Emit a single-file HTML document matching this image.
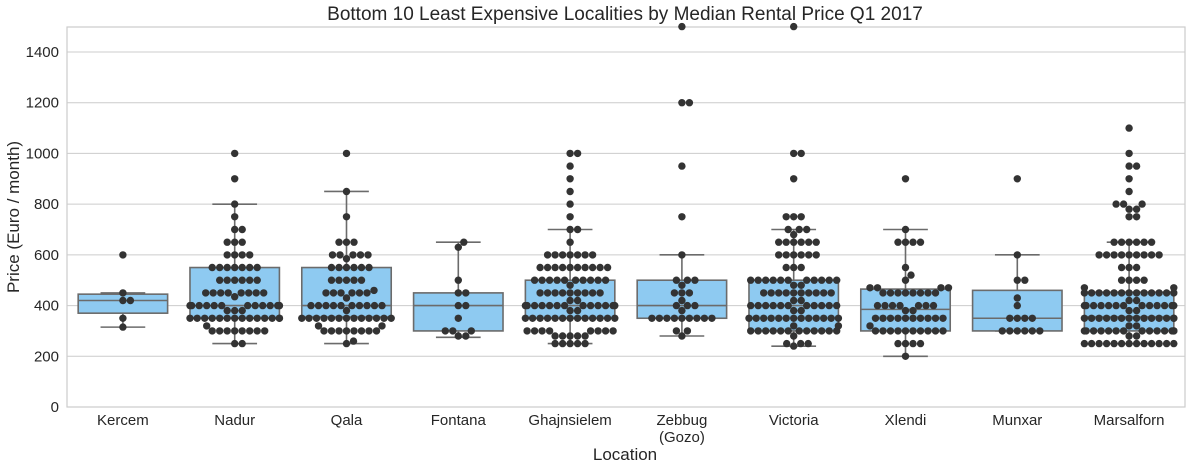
<!DOCTYPE html>
<html><head><meta charset="utf-8"><style>
html,body{margin:0;padding:0;background:#fff;}
svg text{font-family:"Liberation Sans","DejaVu Sans",sans-serif;fill:#262626;}
</style></head><body>
<svg id="s" width="1190" height="470" xmlns="http://www.w3.org/2000/svg"></svg>
<script>
const L=67,R=1185,T=27,B=407,k=(B-52)/1400;
const Y=p=>B-p*k;
let h='';
h+=`<rect x="0" y="0" width="1190" height="470" fill="#fff"/>`;
for(let p=0;p<=1400;p+=200){h+=`<line x1="${L}" x2="${R}" y1="${Y(p)}" y2="${Y(p)}" stroke="#cccccc" stroke-width="1"/>`;
h+=`<text x="59" y="${Y(p)+5}" font-size="15" text-anchor="end">${p}</text>`;}
h+=`<rect x="${L}" y="${T}" width="${R-L}" height="${B-T}" fill="none" stroke="#cccccc" stroke-width="1.2"/>`;
const cats=[
["Kercem",[370,445,420,315,450],{600:1,450:1,420:2,350:1,315:1}],
["Nadur",[350,550,400,250,800],{1000:1,900:1,800:1,750:1,700:2,650:3,600:4,550:7,500:6,450:8,435:1,400:13,380:3,350:14,320:1,300:8,250:2}],
["Qala",[355,550,400,250,850],{1000:1,850:1,750:1,650:3,600:5,585:1,550:6,500:5,460:1,450:6,430:1,400:10,380:1,350:13,320:2,300:8,260:1,250:1}],
["Fontana",[300,450,400,275,650],{650:1,630:1,500:1,450:2,400:2,350:1,300:3,280:2}],
["Ghajnsielem",[350,500,400,250,700],{1000:2,950:1,900:1,850:1,800:1,750:1,700:2,650:1,600:7,550:10,500:10,480:1,450:9,420:2,400:13,380:2,350:13,300:8,280:5,250:5}],
["Zebbug",[350,500,400,280,600],{1500:1,1200:2,950:1,750:1,600:1,500:3,480:1,450:3,420:1,400:3,380:1,350:9,300:2,280:1}],
["Victoria",[300,500,400,240,700],{1500:1,1000:2,900:1,750:3,700:3,680:1,650:6,600:6,550:3,500:11,480:2,450:10,420:2,400:11,380:2,350:13,320:2,300:12,280:1,250:3,240:1}],
["Xlendi",[300,465,385,200,700],{900:1,700:1,650:4,550:1,520:1,500:1,470:4,450:8,400:7,380:2,350:10,320:1,300:10,250:4,200:1}],
["Munxar",[300,460,350,300,600],{900:1,600:1,500:2,430:1,400:1,350:4,300:6}],
["Marsalforn",[300,453,355,250,650],{1100:1,1000:1,950:2,900:1,850:1,800:3,780:2,750:2,650:6,600:9,550:3,500:4,470:2,450:13,420:2,400:13,380:2,350:14,320:2,300:14,280:2,250:13}]
];
const w=(R-L)/10,bw=w*0.8,r=3.7,d=7.4;
let dots='';
cats.forEach((c,i)=>{
 const cx=L+w*(i+0.5),[q1,q3,md,lo,hi]=c[1];
 const bx=cx-bw/2;
 h+=`<line x1="${cx}" x2="${cx}" y1="${Y(q3)}" y2="${Y(hi)}" stroke="#6b6b6b" stroke-width="1.6"/>`;
 h+=`<line x1="${cx}" x2="${cx}" y1="${Y(q1)}" y2="${Y(lo)}" stroke="#6b6b6b" stroke-width="1.6"/>`;
 h+=`<line x1="${cx-bw/4}" x2="${cx+bw/4}" y1="${Y(hi)}" y2="${Y(hi)}" stroke="#6b6b6b" stroke-width="1.6"/>`;
 h+=`<line x1="${cx-bw/4}" x2="${cx+bw/4}" y1="${Y(lo)}" y2="${Y(lo)}" stroke="#6b6b6b" stroke-width="1.6"/>`;
 h+=`<rect x="${bx}" y="${Y(q3)}" width="${bw}" height="${Y(q1)-Y(q3)}" fill="#8ecaf1" stroke="#6b6b6b" stroke-width="1.6"/>`;
 h+=`<line x1="${bx}" x2="${bx+bw}" y1="${Y(md)}" y2="${Y(md)}" stroke="#6b6b6b" stroke-width="1.6"/>`;
 // beeswarm
 let vals=[];
 for(const [p,n] of Object.entries(c[2])) for(let j=0;j<n;j++) vals.push(+p);
 vals.sort((a,b)=>a-b);
 const placed=[];
 for(const v of vals){
  const y=Y(v);let best=null;
  for(let s=0;s<400;s++){
   const off=(s%2?1:-1)*Math.ceil(s/2)*0.5;
   const x=cx+off;
   if(placed.every(q=>(q[0]-x)**2+(q[1]-y)**2>=d*d-0.01)){best=x;break;}
  }
  if(best===null)best=cx;
  placed.push([best,y]);
 }
 for(const [x,y] of placed){
  const xx=Math.max(cx-bw/2,Math.min(cx+bw/2,x));
  dots+=`<circle cx="${xx.toFixed(1)}" cy="${y.toFixed(1)}" r="${r}" fill="#333333"/>`;
 }
 const lab=c[0]=="Zebbug"?`<tspan x="${cx}" dy="0">Zebbug</tspan><tspan x="${cx}" dy="17">(Gozo)</tspan>`:c[0];
 h+=`<text x="${cx}" y="425" font-size="15" text-anchor="middle">${lab}</text>`;
});
h+=dots;
h+=`<text x="625" y="20" font-size="19" text-anchor="middle">Bottom 10 Least Expensive Localities by Median Rental Price Q1 2017</text>`;
h+=`<text x="625" y="460" font-size="17" text-anchor="middle">Location</text>`;
h+=`<text transform="translate(19,217) rotate(-90)" font-size="17" text-anchor="middle">Price (Euro / month)</text>`;
document.getElementById('s').innerHTML=h;
</script>
</body></html>
